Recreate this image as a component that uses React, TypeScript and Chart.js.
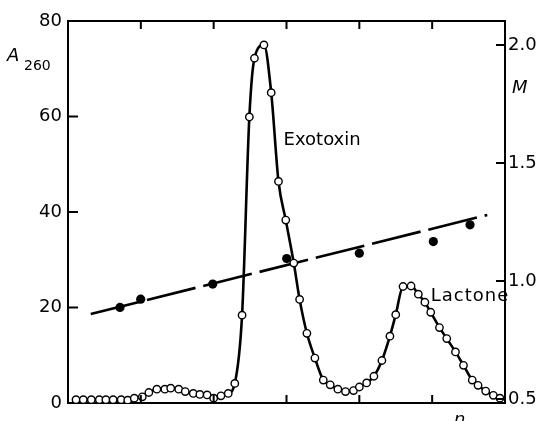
import React, { useEffect, useRef } from "react";
import { Chart, registerables } from "chart.js";

Chart.register(...registerables);

// Fraction number n and absorbance A260 (open circles)
const exoN = [1.1, 2.1, 3.2, 4.3, 5.2, 6.2, 7.3, 8.2, 9.1, 10.2, 11.1, 12.2, 13.3, 14.1, 15.2, 16.1, 17.2, 18.1, 19.1, 20.0, 21.0, 22.0, 22.9, 23.9, 24.9, 25.6, 26.9, 27.9, 28.9, 29.9, 31.0, 31.8, 32.8, 33.9, 35.05, 36.0, 37.05, 38.1, 39.2, 40.0, 41.0, 42.0, 43.1, 44.2, 45.0, 46.0, 47.1, 48.1, 49.0, 49.8, 51.0, 52.0, 53.2, 54.3, 55.5, 56.3, 57.35, 58.4, 59.3];
const exoA = [0.7, 0.7, 0.7, 0.7, 0.7, 0.7, 0.7, 0.6, 1.0, 1.3, 2.2, 2.9, 2.9, 3.1, 2.9, 2.4, 2.0, 1.8, 1.7, 1.0, 1.5, 2.0, 4.1, 18.4, 59.9, 72.2, 75.0, 65.0, 46.4, 38.3, 29.3, 21.7, 14.6, 9.4, 4.8, 3.8, 2.9, 2.4, 2.6, 3.35, 4.2, 5.6, 8.9, 14.0, 18.5, 24.4, 24.5, 22.8, 21.1, 19.0, 15.8, 13.5, 10.7, 7.9, 4.8, 3.7, 2.5, 1.6, 1.0];

// Molarity M (filled dots) and fitted gradient line
const mN = [7.14, 9.98, 19.87, 30.03, 40.0, 50.16, 55.2];
const mVal = [0.888, 0.923, 0.987, 1.095, 1.118, 1.167, 1.238];
const fitN = [3.12, 57.57];
const fitM = [0.86, 1.28];

const leftTicks = [0, 20, 40, 60, 80];
const rightTicks = [0.5, 1.0, 1.5, 2.0];
const nTicks = [10, 20, 30, 40, 50];

const FONT = "DejaVu Sans";

const decorPlugin = {
  id: "decor",
  afterDraw(chart: any) {
    const { ctx, chartArea, scales } = chart;
    const { left, right, top, bottom } = chartArea;
    ctx.save();
    ctx.strokeStyle = "#000";
    ctx.lineWidth = 2;
    ctx.beginPath();
    leftTicks.forEach((v) => {
      if (v === 0 || v === 80) return;
      const y = scales.y.getPixelForValue(v);
      ctx.moveTo(left, y);
      ctx.lineTo(left + 10, y);
    });
    rightTicks.forEach((v) => {
      const y = scales.y1.getPixelForValue(v);
      ctx.moveTo(right, y);
      ctx.lineTo(right - 9, y);
    });
    nTicks.forEach((v) => {
      const x = scales.x.getPixelForValue(v);
      ctx.moveTo(x, top);
      ctx.lineTo(x, top + 8);
      ctx.moveTo(x, bottom);
      ctx.lineTo(x, bottom - 8);
    });
    ctx.stroke();

    ctx.fillStyle = "#000";
    ctx.textBaseline = "middle";
    ctx.textAlign = "left";
    ctx.font = `18px "${FONT}"`;
    ctx.fillText("Exotoxin", scales.x.getPixelForValue(29.6), scales.y.getPixelForValue(55.0));
    (ctx as any).letterSpacing = "1px";
    ctx.fillText("Lactone", scales.x.getPixelForValue(49.8), scales.y.getPixelForValue(22.3));
    (ctx as any).letterSpacing = "0px";

    ctx.font = `italic 18px "${FONT}"`;
    ctx.fillText("A", 7, 56);
    ctx.font = `14px "${FONT}"`;
    ctx.fillText("260", 24, 66);
    ctx.font = `italic 18px "${FONT}"`;
    ctx.fillText("M", 512, 88);
    ctx.textBaseline = "alphabetic";
    ctx.fillText("n", 454, 425);
    ctx.restore();
  },
};

export default function App() {
  const ref = useRef<HTMLCanvasElement>(null);
  useEffect(() => {
    document.body.style.margin = "0";
    Chart.defaults.font.family = FONT;
    const chart = new Chart(ref.current as HTMLCanvasElement, {
      type: "scatter",
      data: {
        datasets: [
          {
            label: "Exotoxin / Lactone",
            data: exoN.map((x, i) => ({ x, y: exoA[i] })),
            yAxisID: "y",
            showLine: true,
            borderColor: "#000",
            borderWidth: 2.6,
            cubicInterpolationMode: "monotone",
            pointRadius: 3.7,
            pointBackgroundColor: "#fff",
            pointBorderColor: "#000",
            pointBorderWidth: 1.4,
          },
          {
            label: "fit",
            data: fitN.map((x, i) => ({ x, y: fitM[i] })),
            yAxisID: "y1",
            showLine: true,
            borderColor: "#000",
            borderWidth: 2.6,
            borderDash: [50, 8],
            pointRadius: 0,
          },
          {
            label: "M",
            data: mN.map((x, i) => ({ x, y: mVal[i] })),
            yAxisID: "y1",
            showLine: false,
            pointRadius: 4.6,
            pointBackgroundColor: "#000",
            pointBorderColor: "#000",
            pointBorderWidth: 0,
          },
        ],
      },
      options: {
        animation: false,
        responsive: false,
        layout: { padding: 0, autoPadding: false },
        plugins: { legend: { display: false }, tooltip: { enabled: false } },
        scales: {
          x: {
            type: "linear",
            position: "bottom",
            min: 0,
            max: 60,
            ticks: { display: false },
            grid: { display: false, drawTicks: false },
            border: { display: true, color: "#000", width: 2 },
            afterFit: (s: any) => {
              s.height = 18;
            },
          },
          x2: {
            type: "linear",
            position: "top",
            min: 0,
            max: 60,
            ticks: { display: false },
            grid: { display: false, drawTicks: false },
            border: { display: true, color: "#000", width: 2 },
            afterFit: (s: any) => {
              s.height = 21;
            },
          },
          y: {
            position: "left",
            min: 0,
            max: 80,
            afterBuildTicks: (axis: any) => {
              axis.ticks = leftTicks.map((v) => ({ value: v }));
            },
            ticks: { color: "#000", font: { size: 18, family: FONT }, padding: 6 },
            grid: { display: false, drawTicks: false },
            border: { display: true, color: "#000", width: 2 },
            afterFit: (s: any) => {
              s.width = 68;
            },
          },
          y1: {
            position: "right",
            min: 0.483,
            max: 2.102,
            afterBuildTicks: (axis: any) => {
              axis.ticks = rightTicks.map((v) => ({ value: v }));
            },
            ticks: {
              color: "#000",
              font: { size: 18, family: FONT },
              padding: 3,
              callback: (v: any) => Number(v).toFixed(1),
            },
            grid: { display: false, drawTicks: false },
            border: { display: true, color: "#000", width: 2 },
            afterFit: (s: any) => {
              s.width = 33;
            },
          },
        },
      },
      plugins: [decorPlugin],
    });
    return () => chart.destroy();
  }, []);
  return (
    <div style={{ position: "absolute", left: 0, top: 0, width: 538, height: 421, background: "#fff" }}>
      <canvas ref={ref} width={538} height={421} />
    </div>
  );
}
